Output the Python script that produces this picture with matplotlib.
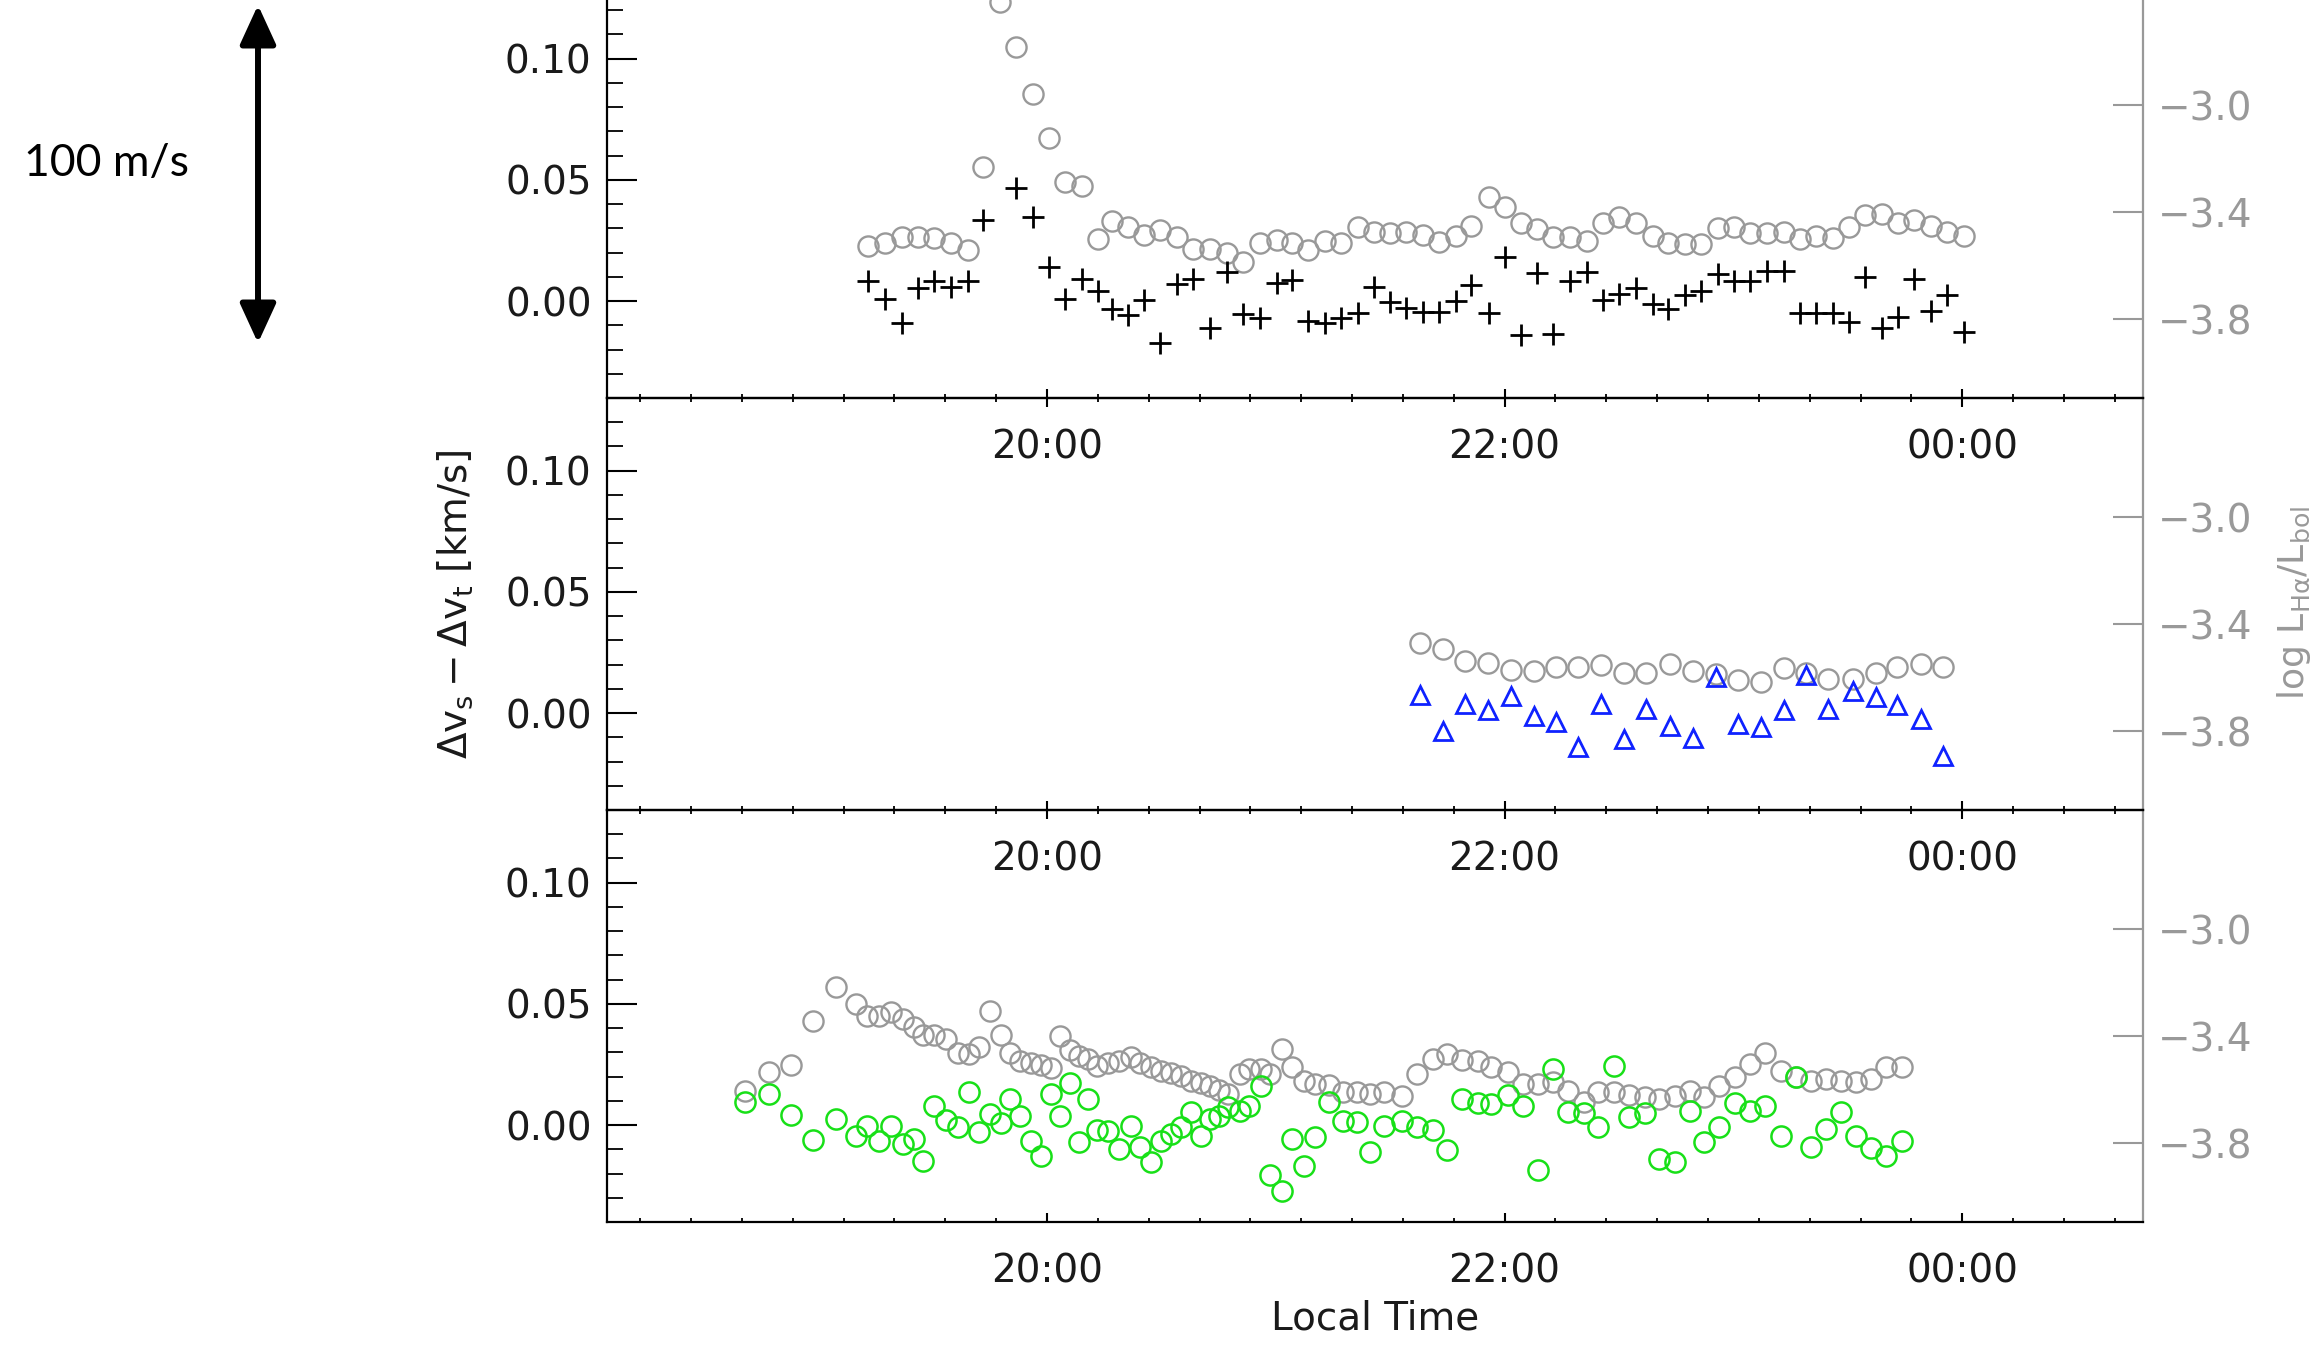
import numpy as np
import matplotlib
matplotlib.use('Agg')
import matplotlib.pyplot as plt
from matplotlib.patches import FancyArrowPatch
from matplotlib.ticker import FixedLocator, FuncFormatter, MultipleLocator, NullLocator

# times are minutes after 20:00 local time
# panel 1: plus signs (left axis, km/s) and grey H-alpha circles (right axis)
t1 = [-47.0, -42.5, -38.0, -33.7, -29.6, -25.2, -20.8, -16.7, -12.3, -8.0,
      -3.8, 0.5, 4.7, 9.3, 13.3, 17.0, 21.2, 25.5, 29.7, 34.0,
      38.4, 42.7, 47.1, 51.3, 55.8, 60.2, 64.3, 68.4, 72.8, 77.2,
      81.6, 85.7, 90.0, 94.1, 98.5, 102.9, 107.2, 111.3, 115.8, 120.2,
      124.3, 128.6, 132.8, 137.2, 141.6, 145.9, 150.1, 154.5, 158.9, 162.8,
      167.3, 171.5, 175.9, 180.2, 184.3, 188.8, 193.2, 197.4, 201.6, 206.0,
      210.3, 214.6, 218.9, 223.1, 227.3, 231.9, 236.1, 240.4]
dv1 = [0.0084, 0.0007, -0.0092, 0.0052, 0.0084, 0.0059, 0.0084, 0.0334, np.nan, 0.0468,
       0.0348, 0.0142, 0.0007, 0.0090, 0.0043, -0.0034, -0.0058, 0.0004, -0.0172, 0.0070,
       0.0090, -0.0113, 0.0121, -0.0054, -0.0071, 0.0073, 0.0087, -0.0081, -0.0090, -0.0071,
       -0.0051, 0.0057, -0.0003, -0.0030, -0.0044, -0.0044, 0.0001, 0.0066, -0.0048, 0.0180,
       -0.0140, 0.0117, -0.0136, 0.0084, 0.0121, 0.0004, 0.0029, 0.0052, -0.0012, -0.0034,
       0.0025, 0.0042, 0.0111, 0.0084, 0.0084, 0.0125, 0.0125, -0.0048, -0.0048, -0.0048,
       -0.0085, 0.0098, -0.0113, -0.0065, 0.0090, -0.0040, 0.0025, -0.0127]
lha1 = [-3.526, -3.514, -3.491, -3.491, -3.497, -3.516, -3.541, -3.230, -2.615, -2.782,
        -2.960, -3.122, -3.288, -3.301, -3.501, -3.432, -3.454, -3.485, -3.466, -3.494,
        -3.538, -3.538, -3.553, -3.585, -3.516, -3.504, -3.516, -3.541, -3.506, -3.516,
        -3.454, -3.475, -3.476, -3.475, -3.485, -3.510, -3.489, -3.451, -3.342, -3.379,
        -3.439, -3.464, -3.491, -3.494, -3.506, -3.441, -3.419, -3.441, -3.489, -3.514,
        -3.519, -3.520, -3.460, -3.454, -3.479, -3.476, -3.473, -3.501, -3.489, -3.497,
        -3.454, -3.410, -3.407, -3.439, -3.429, -3.451, -3.473, -3.489]

# panel 2: triangles
t2 = [97.9, 103.8, 109.5, 115.6, 121.6, 127.6, 133.4, 139.3, 145.4, 151.2,
      157.2, 163.3, 169.3, 175.3, 181.3, 187.1, 193.2, 198.9, 204.9, 211.3,
      217.3, 223.0, 229.1, 235.0]
dv2 = [0.0074, -0.0073, 0.0037, 0.0012, 0.0071, -0.0012, -0.0036, -0.0139, 0.0037, -0.0109,
       0.0015, -0.0054, -0.0104, 0.0150, -0.0045, -0.0056, 0.0012, 0.0157, 0.0015, 0.0092,
       0.0067, 0.0033, -0.0026, -0.0177]
lha2 = [-3.469, -3.494, -3.536, -3.544, -3.571, -3.575, -3.559, -3.559, -3.552, -3.583,
        -3.581, -3.549, -3.575, -3.586, -3.608, -3.615, -3.565, -3.581, -3.606, -3.606,
        -3.583, -3.559, -3.549, -3.559]

# panel 3: green circles
t3 = [-79.1, -73.0, -67.2, -61.3, -55.3, -50.0, -47.2, -44.1, -40.9, -37.8,
      -35.0, -32.5, -29.6, -26.6, -23.3, -20.4, -17.9, -15.0, -12.1, -9.7,
      -7.0, -4.1, -1.6, 1.0, 3.5, 6.1, 8.3, 10.7, 13.2, 16.1,
      18.8, 21.9, 24.5, 27.3, 29.8, 32.4, 35.2, 37.7, 40.5, 42.8,
      45.1, 47.4, 50.5, 53.0, 56.1, 58.6, 61.7, 64.2, 67.3, 70.4,
      73.9, 77.7, 81.3, 84.7, 88.4, 93.0, 96.9, 101.2, 104.8, 108.8,
      112.9, 116.5, 120.8, 124.7, 128.7, 132.6, 136.7, 140.8, 144.5, 148.6,
      152.7, 156.8, 160.6, 164.7, 168.5, 172.4, 176.2, 180.3, 184.3, 188.4,
      192.5, 196.3, 200.4, 204.2, 208.3, 212.2, 216.0, 220.1, 224.1]
dv3 = [0.0096, 0.0128, 0.0041, -0.0060, 0.0025, -0.0044, -0.0003, -0.0065, -0.0003, -0.0078,
       -0.0058, -0.0147, 0.0080, 0.0021, -0.0010, 0.0138, -0.0030, 0.0045, 0.0008, 0.0107,
       0.0039, -0.0065, -0.0129, 0.0128, 0.0039, 0.0173, -0.0069, 0.0107, -0.0019, -0.0023,
       -0.0099, -0.0005, -0.0092, -0.0154, -0.0065, -0.0037, -0.0010, 0.0052, -0.0044, 0.0025,
       0.0039, 0.0073, 0.0059, 0.0080, 0.0160, -0.0206, -0.0271, -0.0058, -0.0170, -0.0051,
       0.0094, 0.0018, 0.0014, -0.0113, -0.0003, 0.0018, -0.0010, -0.0019, -0.0102, 0.0107,
       0.0091, 0.0087, 0.0124, 0.0080, -0.0184, 0.0231, 0.0055, 0.0050, -0.0010, 0.0245,
       0.0032, 0.0050, -0.0140, -0.0154, 0.0059, -0.0071, -0.0010, 0.0091, 0.0059, 0.0080,
       -0.0047, 0.0197, -0.0092, -0.0016, 0.0052, -0.0044, -0.0096, -0.0129, -0.0065]
lha3 = [-3.603, -3.535, -3.507, -3.342, -3.218, -3.280, -3.323, -3.323, -3.308, -3.336,
        -3.367, -3.395, -3.395, -3.410, -3.463, -3.466, -3.442, -3.305, -3.395, -3.463,
        -3.491, -3.500, -3.507, -3.520, -3.400, -3.450, -3.473, -3.485, -3.512, -3.500,
        -3.491, -3.479, -3.498, -3.516, -3.529, -3.537, -3.550, -3.566, -3.575, -3.585,
        -3.600, -3.616, -3.541, -3.522, -3.522, -3.541, -3.448, -3.516, -3.566, -3.578,
        -3.582, -3.607, -3.609, -3.616, -3.609, -3.622, -3.541, -3.485, -3.466, -3.488,
        -3.491, -3.516, -3.535, -3.578, -3.578, -3.572, -3.603, -3.647, -3.609, -3.609,
        -3.619, -3.628, -3.634, -3.622, -3.603, -3.628, -3.585, -3.553, -3.504, -3.463,
        -3.529, -3.553, -3.566, -3.560, -3.566, -3.570, -3.560, -3.516, -3.516]

x_ticks = [20, 22, 24]
left_ticks = [0.0, 0.05, 0.10]
right_ticks = [-3.8, -3.4, -3.0]

GRAY = '#999999'
TXT = '#1a1a1a'

W, H = 2322, 1345
fig = plt.figure(figsize=(W / 100, H / 100), dpi=100)

ax_left, ax_right = 607, 2143
tops = [-14, 398, 810]
ph = 412

styles = [
    dict(marker='+', color='black', ms=16, mew=2.0, ls='none'),
    dict(marker='^', color='#0f22ff', mfc='none', ms=13.5, mew=2.0, ls='none'),
    dict(marker='o', color='#18e018', mfc='none', ms=14.5, mew=1.8, ls='none'),
]
series = [(t1, dv1, lha1), (t2, dv2, lha2), (t3, dv3, lha3)]

def hours(m):
    return 20 + np.asarray(m, dtype=float) / 60.0

for i, top in enumerate(tops):
    ax = fig.add_axes([ax_left / W, 1 - (top + ph) / H, (ax_right - ax_left) / W, ph / H])
    tw = ax.twinx()
    ax.set_zorder(tw.get_zorder() + 1)
    ax.patch.set_visible(False)
    tw.patch.set_visible(False)

    t, dv, lha = series[i]
    tw.plot(hours(t), lha, marker='o', color=GRAY, mfc='none', ms=14.5, mew=1.7, ls='none')
    ax.plot(hours(t), dv, **styles[i])

    ax.set_xlim(18.077, 24.79)
    ax.set_ylim(-0.04, 0.13)
    tw.set_ylim(-4.093, -2.556)

    ax.xaxis.set_major_locator(FixedLocator(x_ticks))
    ax.xaxis.set_minor_locator(FixedLocator(np.arange(18, 25, 2 / 9)))
    ax.xaxis.set_major_formatter(FuncFormatter(lambda v, p: '%02d:00' % (int(round(v)) % 24)))
    ax.yaxis.set_major_locator(FixedLocator(left_ticks))
    ax.yaxis.set_minor_locator(MultipleLocator(0.01))
    ax.yaxis.set_major_formatter(FuncFormatter(lambda v, p: '%.2f' % v))
    tw.yaxis.set_major_locator(FixedLocator(right_ticks))
    tw.yaxis.set_minor_locator(NullLocator())
    tw.yaxis.set_major_formatter(FuncFormatter(lambda v, p: '\u2212%.1f' % abs(v)))

    ax.tick_params(axis='x', which='both', direction='in', top=True, bottom=True,
                   color='black', labelcolor=TXT)
    ax.tick_params(axis='x', which='major', length=6.5, width=1.5, pad=22, labelsize=28)
    ax.tick_params(axis='x', which='minor', length=3.2, width=1.3)
    ax.tick_params(axis='y', which='both', direction='in', left=True, right=False,
                   color='black', labelcolor=TXT)
    ax.tick_params(axis='y', which='major', length=21.6, width=1.5, pad=11, labelsize=28)
    ax.tick_params(axis='y', which='minor', length=11.5, width=1.3)
    tw.tick_params(axis='y', direction='in', length=21.6, width=1.5, color=GRAY,
                   labelcolor=GRAY, pad=11, labelsize=28)

    ax.spines['right'].set_visible(False)
    for s in ['left', 'top', 'bottom']:
        ax.spines[s].set_linewidth(1.6)
        tw.spines[s].set_visible(False)
    tw.spines['right'].set_color(GRAY)
    tw.spines['right'].set_linewidth(1.6)

fig.text(455 / W, 1 - 604 / H, r'$\Delta\mathrm{v}_\mathrm{s}-\Delta\mathrm{v}_\mathrm{t}$ [km/s]',
         rotation=90, ha='center', va='center', fontsize=28, color=TXT)
fig.text(2294 / W, 1 - 603 / H, r'log L$_{\mathrm{H\alpha}}$/L$_{\mathrm{bol}}$',
         rotation=90, ha='center', va='center', fontsize=26, color=GRAY)
fig.text(1375 / W, 1 - 1318 / H, 'Local Time', ha='center', va='center', fontsize=28, color=TXT)

# scale bar
fig.text(24 / W, 1 - 163 / H, '100 m/s', family='Lato', fontsize=32, ha='left', va='center')
arrow = FancyArrowPatch((258 / W, 1 - 5 / H), (258 / W, 1 - 343 / H),
                        transform=fig.transFigure,
                        arrowstyle='<|-|>,head_length=1.2,head_width=0.55',
                        mutation_scale=20, lw=4.3, color='black', shrinkA=0, shrinkB=0)
fig.add_artist(arrow)

fig.savefig('out.png', dpi=100)
